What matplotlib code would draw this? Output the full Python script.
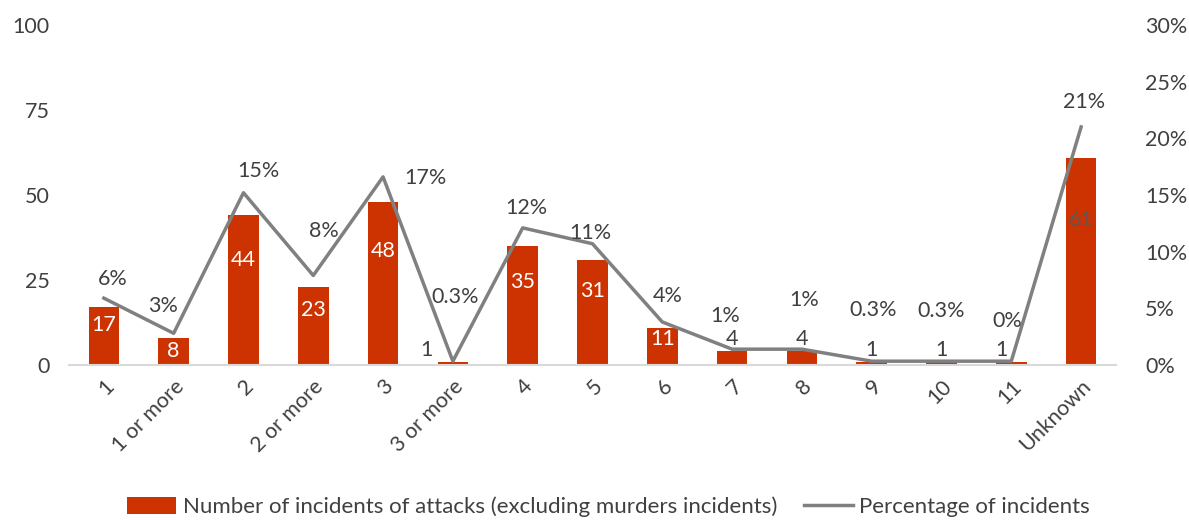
import numpy as np
import matplotlib
matplotlib.use("Agg")
import matplotlib.pyplot as plt

plt.rcParams['font.family'] = ['Lato', 'DejaVu Sans']

categories = ["1", "1 or more", "2", "2 or more", "3", "3 or more", "4", "5",
              "6", "7", "8", "9", "10", "11", "Unknown"]
incidents = [17, 8, 44, 23, 48, 1, 35, 31, 11, 4, 4, 1, 1, 1, 61]
percent = [5.9, 2.8, 15.2, 7.9, 16.6, 0.34, 12.1, 10.7, 3.8, 1.4, 1.4, 0.34, 0.34, 0.34, 21.0]
percent_labels = ["6%", "3%", "15%", "8%", "17%", "0.3%", "12%", "11%", "4%",
                  "1%", "1%", "0.3%", "0.3%", "0%", "21%"]

bar_color = "#CC3300"
line_color = "#808080"
text_color = "#404040"
fs = 15.5

# label offsets in pixels (dx, dy) for the percentage labels
pct_off = [(9, 19), (-11, 27), (15, 22), (11, 44), (42, -1), (2, 64), (4, 20), (-2, 11),
           (5, 26), (-7, 33), (2, 49), (1, 51), (0, 50), (-4, 40), (3, 25)]
# small bar labels sit above the bar in grey
small_off = {5: (-26, 0), 13: (-10, 0)}

fig = plt.figure(figsize=(11.89, 5.2), dpi=100)
ax = fig.add_axes([0.058, 0.298, 0.8806, 0.654])
ax2 = ax.twinx()

x = np.arange(len(categories))
ax.bar(x, incidents, width=0.44, color=bar_color, zorder=2,
       label="Number of incidents of attacks (excluding murders incidents)")
ax2.plot(x, percent, color=line_color, lw=2.5, zorder=3, label="Percentage of incidents")

ax.set_xlim(-0.5, len(categories) - 0.5)
ax.set_ylim(0, 100)
ax2.set_ylim(0, 30)
ax.set_yticks([0, 25, 50, 75, 100])
ax2.set_yticks([0, 5, 10, 15, 20, 25, 30])
ax2.set_yticklabels([f"{t}%" for t in [0, 5, 10, 15, 20, 25, 30]])
ax.set_xticks(x)
ax.set_xticklabels(categories, rotation=45, ha="right", rotation_mode="anchor")

for a in (ax, ax2):
    for s in a.spines.values():
        s.set_visible(False)
    a.tick_params(length=0, labelsize=fs, colors=text_color)
ax.spines["bottom"].set_visible(True)
ax.spines["bottom"].set_color("#D9D9D9")
ax.spines["bottom"].set_linewidth(1.5)
ax.tick_params(axis="y", pad=14)
ax2.tick_params(axis="y", pad=21)
ax.tick_params(axis="x", pad=8)

# bar value labels
for i, v in enumerate(incidents):
    if v >= 8:
        col = "white" if categories[i] != "Unknown" else "#595959"
        ax.text(i, v * 0.7 if v > 8 else v * 0.5, str(v), ha="center", va="center",
                fontsize=fs, color=col, zorder=4)
    else:
        dx, dy = small_off.get(i, (0, 0))
        ax.annotate(str(v), (i, v), xytext=(dx, 12 + dy), textcoords="offset pixels",
                    ha="center", va="center", fontsize=fs, color=text_color, zorder=4)

# percentage labels
for i, (p, lab) in enumerate(zip(percent, percent_labels)):
    dx, dy = pct_off[i]
    ax2.annotate(lab, (i, p), xytext=(dx, dy), textcoords="offset pixels",
                 ha="center", va="center", fontsize=fs, color=text_color, zorder=5)

h1, l1 = ax.get_legend_handles_labels()
h2, l2 = ax2.get_legend_handles_labels()
fig.legend(h1 + h2, l1 + l2, loc="center", bbox_to_anchor=(0.512, 0.025), ncol=2,
           frameon=False, fontsize=16, labelcolor=text_color, columnspacing=1.2,
           handlelength=2.2, handleheight=0.8, handletextpad=0.3)

fig.savefig("out.png", dpi=100)
